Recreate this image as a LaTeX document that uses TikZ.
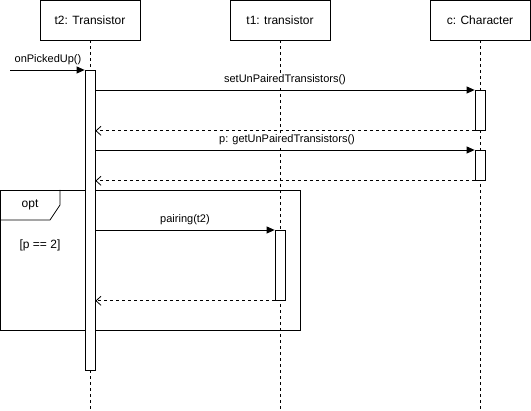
\documentclass[tikz,border=0pt]{standalone}
\usepackage{fontspec}
\setmainfont{Liberation Sans}
\usetikzlibrary{arrows.meta}
\begin{document}
\begin{tikzpicture}[x=1pt,y=-1pt,
  head/.style={draw,line width=0.8pt,minimum width=100pt,minimum height=40pt,inner sep=0pt,font=\fontsize{12}{14}\selectfont},
  life/.style={line width=0.8pt,dash pattern=on 3pt off 3pt},
  act/.style={draw,fill=white,line width=0.8pt,minimum width=10pt,inner sep=0pt,anchor=north},
  call/.style={line width=0.8pt,-{Triangle[length=8pt,width=7pt]}},
  ret/.style={line width=0.8pt,dash pattern=on 3pt off 3pt,-{Straight Barb[length=5pt,width=9pt]}},
  lbl/.style={font=\fontsize{11}{13}\selectfont,inner sep=1pt,fill=white}]
\useasboundingbox (0,0) rectangle (531,411);
\node[head] (t2) at (90,20) {t2: Transistor};
\node[head] (t1) at (280,20) {t1: transistor};
\node[head] (c) at (480,20) {c: Character};
\coordinate (t2e) at (90,411);
\coordinate (t1e) at (280,411);
\coordinate (ce) at (480,411);
\draw[life] (t2.south) -- (t2e);
\draw[life] (t1.south) -- (t1e);
\draw[life] (c.south) -- (ce);
% opt frame
\draw[line width=0.8pt] (0,190) rectangle (300,330);
\node[lbl,font=\fontsize{12}{14}\selectfont] (optl) at (30,205) {opt};
\draw[line width=0.8pt] (0,220) -- (50,220) -- (60,205) -- (60,190);
\node[lbl,font=\fontsize{12}{14}\selectfont] (guard) at (40,245) {[p == 2]};
% activations
\node[act,minimum height=300pt] (a2) at (90,70) {};
\node[act,minimum height=40pt] (ac1) at (480,90) {};
\node[act,minimum height=30pt] (ac2) at (480,150) {};
\node[act,minimum height=70pt] (at1) at (280,230) {};
% found message
\coordinate (start) at (10,70);
\draw[call] (start) -- (a2.north west);
\node[lbl,anchor=south] (m0) at (48,66) {onPickedUp()};
% setUnPairedTransistors
\draw[call] (a2.east |- ac1.north) -- (ac1.north west);
\node[lbl,anchor=south] (m1) at (285,86) {setUnPairedTransistors()};
\draw[ret] (ac1.south west) -- (a2.east |- ac1.south);
% getUnPairedTransistors
\draw[call] (a2.east |- ac2.north) -- (ac2.north west);
\node[lbl,anchor=south] (m2) at (287,146) {p: getUnPairedTransistors()};
\draw[ret] (ac2.south west) -- (a2.east |- ac2.south);
% pairing
\draw[call] (a2.east |- at1.north) -- (at1.north west);
\node[lbl,anchor=south] (m3) at (185,226) {pairing(t2)};
\draw[ret] (at1.south west) -- (a2.east |- at1.south);
\end{tikzpicture}
\end{document}
